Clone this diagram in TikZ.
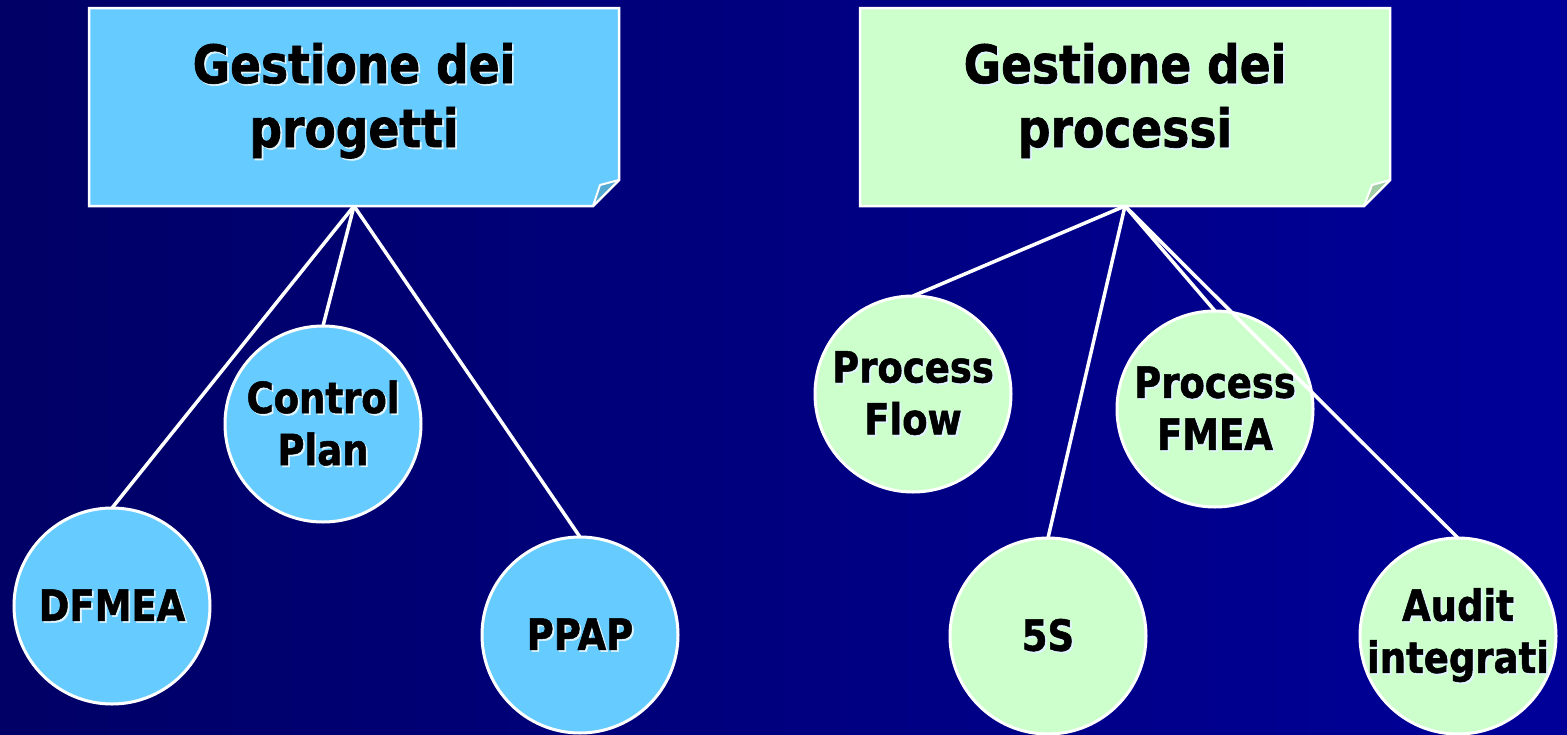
\documentclass[tikz,border=0pt]{standalone}
\usepackage{fontspec}
\newfontfamily\tf{DejaVu Sans Bold}[FakeStretch=0.86,FakeBold=1.2]
\usetikzlibrary{backgrounds}
\definecolor{bgl}{RGB}{0,0,102}
\definecolor{bgr}{RGB}{0,0,153}
\definecolor{bluef}{RGB}{102,204,255}
\definecolor{bluefold}{RGB}{85,170,210}
\definecolor{greenf}{RGB}{204,255,204}
\definecolor{greenfold}{RGB}{160,205,165}
\definecolor{glow}{RGB}{225,245,255}
\newcommand\shd[1]{\makebox[0pt][l]{\hspace{1.8pt}\raisebox{-1.8pt}{\textcolor{glow}{#1}}}#1}
\newcommand\ctrline[1]{\makebox[0pt]{\shd{#1}}}
\tikzset{
  headbox/.style={rectangle, minimum width=530pt, minimum height=198pt, inner sep=0pt, outer sep=0pt,
    align=center, font={\tf\fontsize{53}{64}\selectfont}},
  bubble/.style={circle, minimum size=196pt, inner sep=0pt, outer sep=0pt, draw=white, line width=3pt,
    align=center, font={\tf\fontsize{43}{52}\selectfont}},
  bluebub/.style={bubble, fill=bluef},
  greenbub/.style={bubble, fill=greenf},
  link/.style={draw=white, line width=3.5pt},
  boxline/.style={draw=white, line width=2.5pt}
}
\begin{document}
\begin{tikzpicture}[x=1pt,y=-1pt]
\useasboundingbox (0,0) rectangle (1567,734);
\begin{scope}[on background layer]
  \shade[left color=bgl, right color=bgr] (0,0) rectangle (1567,734);
\end{scope}

% header boxes
\node[headbox] (pl) at (354,107) {\ctrline{Gestione dei}\\\ctrline{progetti}\rule[-24pt]{0pt}{24pt}};
\node[headbox] (pr) at (1125,107) {\ctrline{Gestione dei}\\\ctrline{processi}\rule[-24pt]{0pt}{24pt}};

\begin{scope}[on background layer]
  \path[boxline, fill=bluef] (pl.north west) -- (pl.north east) -- ([yshift=26pt]pl.south east)
     -- ([xshift=-26pt]pl.south east) -- (pl.south west) -- cycle;
  \path[boxline, fill=bluefold, line width=2pt, line join=round] ([yshift=26pt]pl.south east)
     -- ([xshift=-19pt,yshift=21pt]pl.south east) -- ([xshift=-26pt]pl.south east) -- cycle;
  \path[boxline, fill=greenf] (pr.north west) -- (pr.north east) -- ([yshift=26pt]pr.south east)
     -- ([xshift=-26pt]pr.south east) -- (pr.south west) -- cycle;
  \path[boxline, fill=greenfold, line width=2pt, line join=round] ([yshift=26pt]pr.south east)
     -- ([xshift=-18pt,yshift=21pt]pr.south east) -- ([xshift=-26pt]pr.south east) -- cycle;
\end{scope}

% circles
\node[bluebub] (dfmea) at (112,606) {\ctrline{DFMEA}};
\node[bluebub] (cp) at (323,424) {\ctrline{Control}\\\ctrline{Plan}};
\node[bluebub] (ppap) at (580,635) {\ctrline{PPAP}};
\node[greenbub] (pf) at (913,394) {\ctrline{Process}\\\ctrline{Flow}};
\node[greenbub] (fiveS) at (1048,636) {\ctrline{5S}};
\node[greenbub] (pfmea) at (1215,409) {\ctrline{Process}\\\ctrline{FMEA}};
\node[greenbub] (audit) at (1458,636) {\ctrline{Audit}\\\ctrline{integrati}};

% connectors
\draw[link] (pl.south) -- (dfmea.north);
\draw[link] (pl.south) -- (cp.north);
\draw[link] (pl.south) -- (ppap.north);
\draw[link] (pr.south) -- (pf.north);
\draw[link] (pr.south) -- (fiveS.north);
\draw[link] (pr.south) -- (pfmea.north);
\draw[link] (pr.south) -- (audit.north);
\end{tikzpicture}
\end{document}
